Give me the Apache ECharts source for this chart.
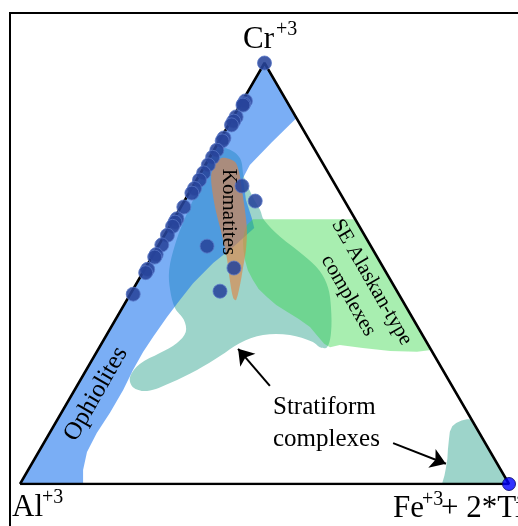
<!DOCTYPE html>
<html>
<head>
<meta charset="utf-8">
<script src="https://cdn.jsdelivr.net/npm/echarts@6/dist/echarts.min.js"></script>
<style>html,body{margin:0;padding:0;background:#fff;}#chart{width:518px;height:526px;}</style>
</head>
<body>
<div id="chart"></div>
<script>
// ---- Data: spinel compositions as ternary fractions (Cr, Fe3+ + 2Ti; Al = remainder)
const sampleCr = [1.000, 0.910, 0.903, 0.900, 0.872, 0.862, 0.853, 0.822, 0.815, 0.793, 0.776, 0.758, 0.739, 0.722, 0.702, 0.691, 0.658, 0.630, 0.622, 0.612, 0.591, 0.568, 0.545, 0.539, 0.510, 0.502, 0.451,
                  0.708, 0.672, 0.565, 0.513, 0.458];
const sampleFe = [0.000, 0.006, 0.006, 0.006, 0.006, 0.006, 0.006, 0.006, 0.006, 0.006, 0.006, 0.006, 0.006, 0.006, 0.006, 0.006, 0.006, 0.006, 0.006, 0.006, 0.006, 0.006, 0.006, 0.006, 0.006, 0.006, 0.006,
                  0.100, 0.145, 0.100, 0.181, 0.180];
const endMemberCr = [0.0];
const endMemberFe = [1.0];

// Triangle corners (Cr, Fe)
const cornerCr = [0, 0, 1, 0];
const cornerFe = [0, 1, 0, 0];

// Field outlines in diagram coordinates [x = Fe + Cr/2, y = Cr]
const ophioliteField = [[0.5,1.0],[0.565,0.869],[0.515,0.812],[0.470,0.758],[0.456,0.727],[0.462,0.675],[0.474,0.632],[0.479,0.608],
  [0.436,0.563],[0.395,0.525],[0.354,0.477],[0.327,0.437],[0.301,0.397],[0.272,0.349],[0.252,0.314],[0.231,0.271],[0.211,0.223],
  [0.184,0.169],[0.157,0.121],[0.137,0.076],[0.129,0.033],[0.129,0.0],[0.0,0.0]];
const stratiformField = [[0.393,0.793],[0.425,0.796],[0.450,0.774],[0.458,0.729],[0.476,0.682],[0.491,0.651],[0.499,0.627],[0.532,0.587],
  [0.579,0.544],[0.613,0.506],[0.630,0.466],[0.636,0.418],[0.636,0.359],[0.628,0.325],[0.613,0.325],[0.599,0.337],[0.552,0.354],
  [0.497,0.354],[0.450,0.335],[0.409,0.304],[0.362,0.271],[0.307,0.240],[0.260,0.221],[0.231,0.230],[0.225,0.254],[0.245,0.285],
  [0.286,0.311],[0.321,0.335],[0.339,0.361],[0.335,0.390],[0.317,0.418],[0.307,0.461],[0.305,0.508],[0.317,0.568],[0.333,0.620],
  [0.358,0.686],[0.378,0.751]];
const stratiformFieldFe = [[0.863,0.0],[0.868,0.020],[0.871,0.038],[0.874,0.060],[0.875,0.081],[0.877,0.104],[0.879,0.124],[0.884,0.137],
  [0.892,0.145],[0.903,0.151],[0.914,0.154],[0.923,0.154],[1.0,0.0]];
const alaskanField = [[0.476,0.629],[0.685,0.629],[0.841,0.318],[0.812,0.314],[0.757,0.316],[0.701,0.323],[0.654,0.330],[0.634,0.325],
  [0.622,0.333],[0.608,0.352],[0.593,0.373],[0.570,0.392],[0.546,0.409],[0.524,0.425],[0.505,0.444],[0.488,0.463],[0.476,0.485],
  [0.466,0.508],[0.460,0.532],[0.457,0.556],[0.456,0.580],[0.459,0.600],[0.464,0.615]];
const komatiiteField = [[0.423,0.774],[0.440,0.765],[0.448,0.741],[0.454,0.698],[0.460,0.651],[0.464,0.603],[0.462,0.556],[0.456,0.513],
  [0.450,0.473],[0.442,0.437],[0.436,0.442],[0.429,0.485],[0.423,0.537],[0.413,0.591],[0.401,0.646],[0.393,0.698],[0.391,0.734],
  [0.399,0.762],[0.411,0.774]];

// Arrows pointing to the stratiform fields [from, to]
const arrowStratiform = [[[0.511,0.233],[0.446,0.321]], [[0.763,0.097],[0.871,0.048]]];

const fieldNames = ['Ophiolites', 'Komatites', 'SE Alaskan-type\ncomplexes', 'Stratiform\ncomplexes'];

// ---- helpers
const toXY = (cr, fe) => [fe + cr / 2, cr];
const samplePts = sampleCr.map((c, i) => toXY(c, sampleFe[i]));
const endPts = endMemberCr.map((c, i) => toXY(c, endMemberFe[i]));
const cornerPts = cornerCr.map((c, i) => toXY(c, cornerFe[i]));

function fieldSeries(name, outline, fill, opacity, smooth, z) {
  return {
    type: 'custom', name: name, z: z, silent: true, data: [0],
    renderItem: function (params, api) {
      return {
        type: 'polygon',
        shape: { points: outline.map(p => api.coord(p)), smooth: smooth },
        style: { fill: fill, opacity: opacity }
      };
    }
  };
}

const chart = echarts.init(document.getElementById('chart'), null, { renderer: 'canvas' });
const serif = '"Liberation Serif", "Times New Roman", serif';

const option = {
  backgroundColor: '#ffffff',
  animation: false,
  grid: { left: 20, top: 63, width: 489, height: 421, containLabel: false },
  xAxis: { type: 'value', min: 0, max: 1, show: false },
  yAxis: { type: 'value', min: 0, max: 1, show: false },
  series: [
    fieldSeries('Stratiform', stratiformField, '#9dd4ca', 1, 0.35, 1),
    fieldSeries('StratiformFe', stratiformFieldFe, '#9dd4ca', 1, 0, 1),
    fieldSeries('Ophiolites', ophioliteField, 'rgb(20,111,237)', 0.565, 0, 2),
    fieldSeries('Alaskan', alaskanField, 'rgb(48,214,67)', 0.42, 0, 3),
    fieldSeries('Komatiites', komatiiteField, 'rgb(223,132,68)', 0.63, 0.3, 4),
    {
      type: 'line', data: cornerPts, symbol: 'none', z: 5, silent: true,
      lineStyle: { color: '#000', width: 2.5 }
    },
    {
      type: 'lines', coordinateSystem: 'cartesian2d', z: 6, silent: true,
      symbol: ['none', 'arrow'], symbolSize: 15,
      lineStyle: { color: '#000', width: 2, opacity: 1 },
      data: arrowStratiform.map(a => ({ coords: a }))
    },
    {
      type: 'scatter', data: samplePts, symbolSize: 14, z: 7, silent: true,
      itemStyle: { color: 'rgb(40,68,155)', opacity: 0.88, borderColor: 'rgba(90,120,200,0.9)', borderWidth: 1 }
    },
    {
      type: 'scatter', data: endPts, symbolSize: 13, z: 7, silent: true,
      itemStyle: { color: '#0000ff', borderColor: '#000066', borderWidth: 1 }
    }
  ],
  graphic: [
    { type: 'rect', shape: { x: 10, y: 13, width: 560, height: 560 }, style: { fill: 'none', stroke: '#000', lineWidth: 2 }, z: 0 },
    { type: 'text', x: 243, y: 40, style: { text: 'Cr', font: '31px ' + serif, fill: '#000', verticalAlign: 'middle', align: 'left' }, z: 10 },
    { type: 'text', x: 276, y: 30, style: { text: '+3', font: '20px ' + serif, fill: '#000', verticalAlign: 'middle', align: 'left' }, z: 10 },
    { type: 'text', x: 12, y: 508, style: { text: 'Al', font: '31px ' + serif, fill: '#000', verticalAlign: 'middle', align: 'left' }, z: 10 },
    { type: 'text', x: 42, y: 498, style: { text: '+3', font: '20px ' + serif, fill: '#000', verticalAlign: 'middle', align: 'left' }, z: 10 },
    { type: 'text', x: 393, y: 509, style: { text: 'Fe', font: '31px ' + serif, fill: '#000', verticalAlign: 'middle', align: 'left' }, z: 10 },
    { type: 'text', x: 422, y: 500, style: { text: '+3', font: '20px ' + serif, fill: '#000', verticalAlign: 'middle', align: 'left' }, z: 10 },
    { type: 'text', x: 441, y: 509, style: { text: '+ 2*Ti', font: '31px ' + serif, fill: '#000', verticalAlign: 'middle', align: 'left' }, z: 10 },
    { type: 'text', x: 96, y: 394, rotation: Math.PI / 3, style: { text: fieldNames[0], font: '25px ' + serif, fill: '#000', verticalAlign: 'middle', align: 'center' }, z: 10 },
    { type: 'text', x: 229, y: 212, rotation: -Math.PI / 2, style: { text: fieldNames[1], font: '21px ' + serif, fill: '#000', verticalAlign: 'middle', align: 'center' }, z: 10 },
    { type: 'text', x: 360, y: 289, rotation: -Math.PI / 3, style: { text: fieldNames[2], font: '21px ' + serif, fill: '#000', verticalAlign: 'middle', align: 'center', lineHeight: 27 }, z: 10 },
    { type: 'text', x: 273, y: 423, style: { text: fieldNames[3], font: '25px ' + serif, fill: '#000', verticalAlign: 'middle', align: 'left', lineHeight: 32 }, z: 10 }
  ]
};
chart.setOption(option);
</script>
</body>
</html>
